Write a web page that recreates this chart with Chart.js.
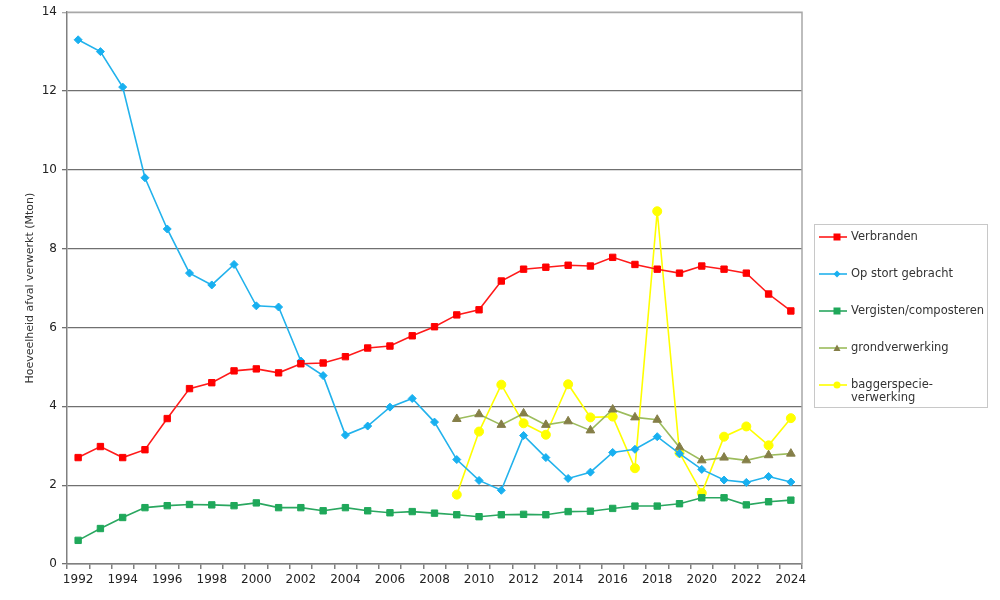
<!DOCTYPE html>
<html>
<head>
<meta charset="utf-8">
<script src="https://cdn.jsdelivr.net/npm/chart.js@4/dist/chart.umd.min.js"></script>
<style>
  html, body { margin: 0; padding: 0; background: #fff; }
  #wrap { position: relative; width: 1000px; height: 600px; }
  #legend {
    position: absolute; left: 814px; top: 224px; width: 174px; height: 184px;
    border: 1px solid #c8c8c8; box-sizing: border-box;
    font-family: "DejaVu Sans", Verdana, sans-serif; font-size: 11.5px; color: #333;
  }
  .item { position: absolute; left: 4px; display: flex; align-items: flex-start; }
  .item svg { flex: 0 0 auto; margin-top: 1px; }
  .item span { margin-left: 4px; line-height: 13px; }
</style>
</head>
<body>
<div id="wrap">
  <canvas id="afvalChart" width="1000" height="600"></canvas>
  <div id="legend"></div>
</div>
<script>
const years = [];
for (let y = 1992; y <= 2024; y++) years.push(String(y));

const verbranden = [2.7, 2.98, 2.7, 2.9, 3.69, 4.45, 4.6, 4.9, 4.95, 4.85, 5.08, 5.1, 5.26, 5.48, 5.53, 5.79, 6.02,
  6.32, 6.45, 7.18, 7.48, 7.53, 7.58, 7.56, 7.78, 7.6, 7.48, 7.38, 7.56, 7.48, 7.38, 6.85, 6.42];
const opStort = [13.3, 13.0, 12.1, 9.8, 8.5, 7.38, 7.08, 7.6, 6.55, 6.52, 5.15, 4.78, 3.27, 3.5, 3.98, 4.2, 3.6,
  2.65, 2.12, 1.87, 3.26, 2.7, 2.17, 2.33, 2.83, 2.91, 3.23, 2.8, 2.4, 2.13, 2.07, 2.22, 2.08];
const vergisten = [0.6, 0.9, 1.18, 1.43, 1.48, 1.51, 1.5, 1.48, 1.55, 1.43, 1.43, 1.35, 1.43, 1.35, 1.3, 1.33, 1.29,
  1.25, 1.2, 1.25, 1.26, 1.25, 1.33, 1.34, 1.41, 1.47, 1.47, 1.53, 1.68, 1.68, 1.5, 1.58, 1.62];
// from 2009 onwards
const grondverwerking = [null, null, null, null, null, null, null, null, null, null, null, null, null, null, null, null, null,
  3.68, 3.8, 3.53, 3.82, 3.53, 3.62, 3.39, 3.92, 3.72, 3.66, 2.96, 2.63, 2.7, 2.63, 2.76, 2.8];
const baggerspecie = [null, null, null, null, null, null, null, null, null, null, null, null, null, null, null, null, null,
  1.76, 3.36, 4.55, 3.57, 3.28, 4.56, 3.72, 3.74, 2.43, 8.95, 2.82, 1.8, 3.23, 3.49, 3.01, 3.7];

const FONT = '"DejaVu Sans", Verdana, sans-serif';

const series = [
  { label: 'Verbranden', data: verbranden, line: '#ff1a1a', fill: '#ff0000', style: 'rect', r: 4.5 },
  { label: 'Op stort gebracht', data: opStort, line: '#22b2ec', fill: '#18b0f0', style: 'rectRot', r: 4 },
  { label: 'Vergisten/composteren', data: vergisten, line: '#2aa760', fill: '#1fa85a', style: 'rect', r: 4.5 },
  { label: 'grondverwerking', data: grondverwerking, line: '#9cbc5c', fill: '#857f48', style: 'triangle', r: 5 },
  { label: ['baggerspecie-', 'verwerking'], data: baggerspecie, line: '#ffff00', fill: '#ffff00', style: 'circle', r: 4.5 }
];

const datasets = series.map(s => ({
  label: Array.isArray(s.label) ? s.label.join('') : s.label,
  data: s.data,
  borderColor: s.line,
  backgroundColor: s.fill,
  pointBorderColor: s.fill,
  pointBackgroundColor: s.fill,
  pointStyle: s.style,
  pointRadius: s.r,
  pointBorderWidth: 1,
  borderWidth: 1.6,
  tension: 0,
  spanGaps: false
}));

// light border on top and right of the plot area
const frame = {
  id: 'frame',
  afterDraw(chart) {
    const { ctx, chartArea: a } = chart;
    ctx.save();
    ctx.strokeStyle = '#a8a8a8';
    ctx.lineWidth = 1.5;
    ctx.beginPath();
    ctx.moveTo(a.left, a.top);
    ctx.lineTo(a.right, a.top);
    ctx.lineTo(a.right, a.bottom);
    ctx.stroke();
    ctx.restore();
  }
};

new Chart(document.getElementById('afvalChart'), {
  type: 'line',
  data: { labels: years, datasets },
  plugins: [frame],
  options: {
    responsive: false,
    animation: false,
    layout: { padding: { top: 3, right: 198, left: 0, bottom: 0 } },
    plugins: { legend: { display: false }, tooltip: { enabled: false } },
    scales: {
      x: {
        offset: true,
        grid: { offset: true, drawOnChartArea: false, drawTicks: true, tickLength: 5, color: '#808080', lineWidth: 1.5 },
        border: { color: '#808080', width: 1.5 },
        ticks: {
          autoSkip: false, maxRotation: 0, padding: 4,
          color: '#222', font: { family: FONT, size: 12 },
          callback: function (v, i) { return i % 2 === 0 ? this.getLabelForValue(v) : ''; }
        },
        afterFit(scale) { scale.height = 36; }
      },
      y: {
        min: 0, max: 14,
        grid: {
          color: ctx => ctx.tick && ctx.tick.value === 14 ? '#a8a8a8' : '#707070',
          lineWidth: 1.3, tickLength: 5
        },
        border: { color: '#808080', width: 1.5 },
        ticks: { stepSize: 2, padding: 5, color: '#222', font: { family: FONT, size: 12 } },
        title: {
          display: true, text: 'Hoeveelheid afval verwerkt (Mton)',
          color: '#333', font: { family: FONT, size: 11 }, padding: { top: 24, bottom: 4 }
        },
        afterFit(scale) { scale.width = 67; }
      }
    }
  }
});

// legend with line + marker samples
const legend = document.getElementById('legend');
const tops = [5, 42, 79, 116, 153];
function markerSvg(s) {
  const cx = 18, cy = 6;
  let m = '';
  if (s.style === 'rect') m = `<rect x="${cx - 3.5}" y="${cy - 3.5}" width="7" height="7" fill="${s.fill}"/>`;
  else if (s.style === 'rectRot') m = `<polygon points="${cx},${cy - 3.5} ${cx + 3.5},${cy} ${cx},${cy + 3.5} ${cx - 3.5},${cy}" fill="${s.fill}"/>`;
  else if (s.style === 'triangle') m = `<polygon points="${cx},${cy - 3.5} ${cx + 3.5},${cy + 3} ${cx - 3.5},${cy + 3}" fill="${s.fill}"/>`;
  else m = `<circle cx="${cx}" cy="${cy}" r="3.5" fill="${s.fill}"/>`;
  return `<svg width="28" height="12"><line x1="0" y1="${cy}" x2="28" y2="${cy}" stroke="${s.line}" stroke-width="1.6"/>${m}</svg>`;
}
series.forEach((s, i) => {
  const el = document.createElement('div');
  el.className = 'item';
  el.style.top = tops[i] + 'px';
  const text = Array.isArray(s.label) ? s.label.join('<br>') : s.label;
  el.innerHTML = markerSvg(s) + `<span>${text}</span>`;
  legend.appendChild(el);
});
</script>
</body>
</html>
